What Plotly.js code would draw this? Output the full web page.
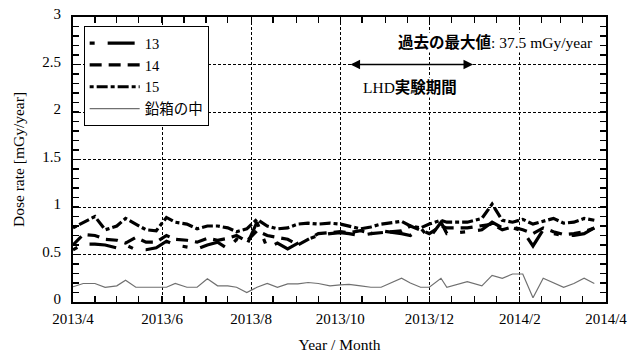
<!DOCTYPE html>
<html>
<head>
<meta charset="utf-8">
<script src="https://cdn.plot.ly/plotly-3.0.1.min.js"></script>
<style>
  html, body { margin: 0; padding: 0; background: #ffffff; }
  #chart { width: 630px; height: 358px; }
</style>
</head>
<body>
<div id="chart"></div>
<script>
// Weekly measurement dates (FY2013)
const measureDates = [
  '2013-04-01','2013-04-08','2013-04-16','2013-04-23','2013-05-01','2013-05-07','2013-05-14','2013-05-21',
  '2013-05-28','2013-06-04','2013-06-10','2013-06-18','2013-06-25','2013-07-02','2013-07-09','2013-07-16',
  '2013-07-22','2013-07-29','2013-08-05','2013-08-12','2013-08-19','2013-08-26','2013-09-02','2013-09-09',
  '2013-09-16','2013-09-24','2013-10-01','2013-10-07','2013-10-15','2013-10-22','2013-10-29','2013-11-12',
  '2013-11-18','2013-11-25','2013-12-01','2013-12-09','2013-12-13','2013-12-27','2014-01-06','2014-01-13',
  '2014-01-20','2014-01-27','2014-02-03','2014-02-10','2014-02-17','2014-02-24','2014-03-03','2014-03-10',
  '2014-03-17','2014-03-24'
];

// Dose rate [mGy/year] at monitoring points 13, 14, 15 and inside the lead box
const dose13 = [
  0.55,0.61,0.61,0.60,0.57,0.60,0.55,0.55,0.57,0.64,0.60,0.58,0.56,0.60,0.63,0.56,
  0.66,0.60,0.84,0.57,0.62,0.56,0.62,0.66,0.70,0.72,0.73,0.72,0.70,0.72,0.75,0.72,
  0.70,0.78,0.67,0.84,0.72,0.74,0.76,0.84,0.78,0.78,0.75,0.59,0.76,0.72,0.70,0.70,
  0.72,0.78
];
const dose14 = [
  0.60,0.71,0.70,0.66,0.65,0.62,0.68,0.63,0.63,0.70,0.66,0.65,0.63,0.67,0.65,0.67,
  0.70,0.64,0.75,0.70,0.68,0.66,0.60,0.66,0.72,0.73,0.74,0.73,0.75,0.72,0.73,0.75,
  0.80,0.76,0.72,0.80,0.78,0.78,0.80,0.82,0.76,0.79,0.76,0.72,0.78,0.74,0.71,0.72,
  0.74,0.78
];
const dose15 = [
  0.78,0.84,0.90,0.76,0.80,0.88,0.82,0.76,0.75,0.89,0.84,0.82,0.77,0.80,0.80,0.78,
  0.74,0.77,0.87,0.80,0.77,0.78,0.82,0.83,0.82,0.83,0.82,0.80,0.77,0.79,0.82,0.85,
  0.80,0.78,0.82,0.86,0.84,0.84,0.88,1.03,0.86,0.84,0.87,0.82,0.85,0.88,0.83,0.84,
  0.88,0.86
];
const doseLeadBox = [
  0.16,0.195,0.195,0.155,0.17,0.23,0.155,0.155,0.155,0.155,0.195,0.155,0.155,0.245,0.17,0.17,
  0.155,0.10,0.155,0.195,0.155,0.19,0.19,0.205,0.195,0.17,0.18,0.185,0.17,0.155,0.155,0.25,
  0.20,0.155,0.155,0.25,0.155,0.215,0.17,0.28,0.25,0.295,0.295,0.045,0.25,0.20,0.155,0.195,
  0.25,0.195
];

const seriesNames = ['13', '14', '15', '鉛箱の中'];

// Axis ticks
const monthTickVals = ['2013-04-01','2013-06-01','2013-08-01','2013-10-01','2013-12-01','2014-02-01','2014-04-01'];
const monthTickText = ['2013/4','2013/6','2013/8','2013/10','2013/12','2014/2','2014/4'];

// LHD experiment campaign
const campaignStart = '2013-10-07';
const campaignEnd = '2013-12-31';
const campaignLevel = 2.5;

// half-month minor ticks along the time axis
const halfMonthTicks = [];
for (let i = 0; i < 12; i++) {
  const d = new Date(Date.UTC(2013, 3 + i, 1));
  const y = d.getUTCFullYear();
  const m = String(d.getUTCMonth() + 1).padStart(2, '0');
  halfMonthTicks.push(`${y}-${m}-01`, `${y}-${m}-16`);
}

const serif = '"Liberation Serif", "Times New Roman", "Noto Sans CJK JP", serif';

const traces = [
  { x: measureDates, y: dose13, name: seriesNames[0], mode: 'lines',
    line: { color: '#000000', width: 3.2, dash: '5px,13px,27px,13px' } },
  { x: measureDates, y: dose14, name: seriesNames[1], mode: 'lines',
    line: { color: '#000000', width: 3.2, dash: '12px,7px' } },
  { x: measureDates, y: dose15, name: seriesNames[2], mode: 'lines',
    line: { color: '#000000', width: 3.2, dash: '4px,3px,11px,3px' } },
  { x: measureDates, y: doseLeadBox, name: seriesNames[3], mode: 'lines',
    line: { color: '#707070', width: 1.2 } }
];

const frameAxis = {
  showline: true, linecolor: '#000000', linewidth: 2,
  mirror: 'allticks',
  ticks: 'inside', ticklen: 6, tickwidth: 1.3, tickcolor: '#000000',
  showgrid: true, gridcolor: '#000000', gridwidth: 1, griddash: '3px,2px',
  zeroline: false,
  tickfont: { family: serif, size: 15, color: '#000000' }
};

const layout = {
  width: 630, height: 358,
  margin: { l: 73, r: 24, t: 17, b: 56 },
  paper_bgcolor: '#ffffff', plot_bgcolor: '#ffffff',
  font: { family: serif, color: '#000000', size: 15 },
  showlegend: true,
  legend: {
    x: 0.02, y: 0.968, xanchor: 'left', yanchor: 'top',
    bgcolor: '#ffffff', bordercolor: '#000000', borderwidth: 1,
    font: { family: serif, size: 14.5, color: '#000000' },
    itemwidth: 50,
    tracegroupgap: 0
  },
  xaxis: Object.assign({}, frameAxis, {
    type: 'date',
    range: ['2013-04-01', '2014-04-01'],
    tickmode: 'array', tickvals: monthTickVals, ticktext: monthTickText,
    ticklabelstandoff: 2,
    minor: { tickmode: 'array', tickvals: halfMonthTicks, ticks: 'inside', ticklen: 6,
             tickwidth: 1.3, tickcolor: '#000000', showgrid: false },
    title: { text: 'Year / Month', font: { family: serif, size: 15.5 }, standoff: 13 }
  }),
  yaxis: Object.assign({}, frameAxis, {
    range: [0, 3],
    tickmode: 'linear', tick0: 0, dtick: 0.5,
    ticklabelstandoff: 7,
    ticklabelshift: -3,
    minor: { dtick: 0.1, ticks: 'inside', ticklen: 6, tickwidth: 1.3,
             tickcolor: '#000000', showgrid: false },
    title: { text: 'Dose rate [mGy/year]', font: { family: serif, size: 15.5 }, standoff: 14 }
  }),
  annotations: [
    { xref: 'paper', yref: 'paper', x: 0.979, y: 0.912, xanchor: 'right', yanchor: 'middle',
      text: '<b>過去の最大値</b>: 37.5 mGy/year', showarrow: false,
      bgcolor: '#ffffff', borderpad: 1,
      font: { family: serif, size: 15.5, color: '#000000' } },
    { xref: 'x', yref: 'y', axref: 'x', ayref: 'y',
      x: campaignEnd, y: campaignLevel, ax: campaignStart, ay: campaignLevel,
      text: '', showarrow: true, arrowhead: 2, arrowside: 'end+start',
      arrowsize: 1.2, arrowwidth: 1.6, arrowcolor: '#000000', standoff: 0, startstandoff: 0 },
    { xref: 'paper', yref: 'paper', x: 0.632, y: 0.751, xanchor: 'center', yanchor: 'middle',
      text: 'LHD<b>実験期間</b>', showarrow: false,
      bgcolor: '#ffffff', borderpad: 1,
      font: { family: serif, size: 15.5, color: '#000000' } }
  ]
};

Plotly.newPlot('chart', traces, layout, { staticPlot: true, displayModeBar: false });
</script>
</body>
</html>
